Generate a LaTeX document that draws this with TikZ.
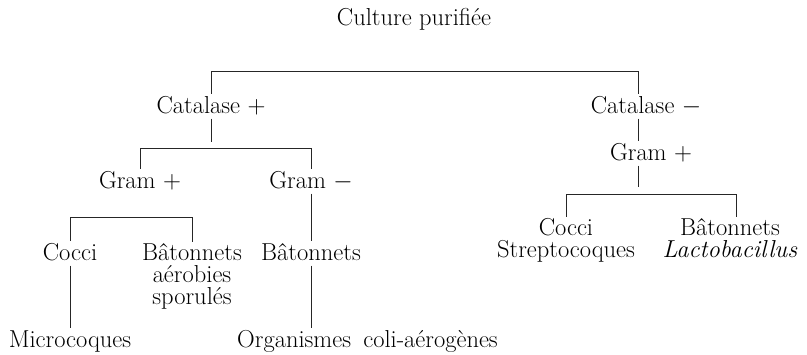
\documentclass[tikz,border=0pt]{standalone}

\begin{document}
\begin{tikzpicture}[x=1pt, y=-1pt,
    lbl/.style={anchor=base, inner xsep=0pt, inner ysep=2.5pt, text height=16.5pt, text depth=3pt,
      font=\fontsize{24.5}{22}\selectfont},
    multi/.style={anchor=base, align=center, inner xsep=0pt, inner ysep=1pt,
      font=\fontsize{24.5}{22}\selectfont},
    branch/.style={line width=0.9pt, black!85}]
  \useasboundingbox (0,0) rectangle (807,354);

  % Define the labels of the tree (multi-line labels sit on their last line)
  \node[lbl] (cult) at (414,25) {Culture purifiée};
  \node[lbl] (catp) at (211,113) {Catalase $+$};
  \node[lbl] (catm) at (646,113) {Catalase $-$};
  \node[lbl] (gramp) at (140,188) {Gram $+$};
  \node[lbl] (gramm) at (311,188) {Gram $-$};
  \node[lbl] (gramr) at (651,160) {Gram $+$};
  \node[lbl] (coccl) at (70,260) {Cocci};
  \node[multi] (batl) at (192,304) {Bâtonnets\\aérobies\\sporulés};
  \node[lbl] (batm) at (311,260) {Bâtonnets};
  \node[lbl] (micro) at (70,347) {Microcoques};
  \node[lbl] (orga) at (367.5,347) {Organismes\hspace{0.5em}coli-aérogènes};
  \node[multi] (coccr) at (566,257) {Cocci\\Streptocoques};
  \node[multi] (batr) at (730,257) {Bâtonnets\\\textit{Lactobacillus}};

  % Free ends of the broken branches
  \coordinate (catpend) at (211,142);
  \coordinate (gramrend) at (638,187);

  % Draw the branches
  \draw[branch] (catp.north) -- ++(0,-22) -| ([xshift=-8pt]catm.north);
  \draw[branch] (catp.south) -- (catpend);
  \draw[branch] (gramp.north) -- ++(0,-20) -| (gramm.north);
  \draw[branch] (gramm.south) -- (batm.north);
  \draw[branch] (coccl.north) -- ++(0,-23) -| (batl.north);
  \draw[branch] (coccl.south) -- (micro.north);
  \draw[branch] (batm.south) -- ([xshift=-56.5pt]orga.north);
  \draw[branch] ([xshift=-8pt]catm.south) -- ([xshift=-13pt]gramr.north);
  \draw[branch] ([xshift=-13pt]gramr.south) -- (gramrend);
  \draw[branch] (coccr.north) -- ++(0,-22) -| ([xshift=6pt]batr.north);
\end{tikzpicture}
\end{document}
